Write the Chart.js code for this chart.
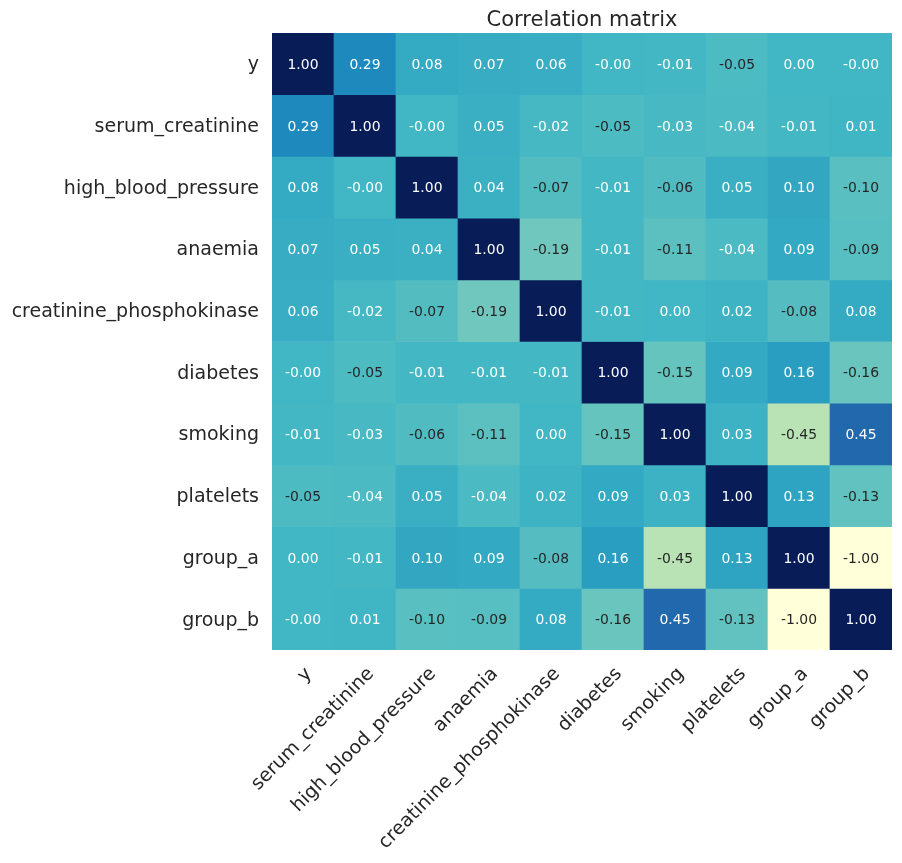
<!DOCTYPE html>
<html><head><meta charset="utf-8">
<script src="https://cdn.jsdelivr.net/npm/chart.js@4/dist/chart.umd.min.js"></script>
<style>html,body{margin:0;padding:0;background:#fff}</style>
</head><body>
<canvas id="c" width="902" height="863" style="width:902px;height:863px;display:block"></canvas>
<script>
const labels = ['y','serum_creatinine','high_blood_pressure','anaemia','creatinine_phosphokinase','diabetes','smoking','platelets','group_a','group_b'];
const rowY        = [1.00, 0.29, 0.08, 0.07, 0.06, -0.00, -0.01, -0.05, 0.00, -0.00];
const rowSerum    = [0.29, 1.00, -0.00, 0.05, -0.02, -0.05, -0.03, -0.04, -0.01, 0.01];
const rowHBP      = [0.08, -0.00, 1.00, 0.04, -0.07, -0.01, -0.06, 0.05, 0.10, -0.10];
const rowAnaemia  = [0.07, 0.05, 0.04, 1.00, -0.19, -0.01, -0.11, -0.04, 0.09, -0.09];
const rowCPK      = [0.06, -0.02, -0.07, -0.19, 1.00, -0.01, 0.00, 0.02, -0.08, 0.08];
const rowDiabetes = [-0.00, -0.05, -0.01, -0.01, -0.01, 1.00, -0.15, 0.09, 0.16, -0.16];
const rowSmoking  = [-0.01, -0.03, -0.06, -0.11, 0.00, -0.15, 1.00, 0.03, -0.45, 0.45];
const rowPlatelets= [-0.05, -0.04, 0.05, -0.04, 0.02, 0.09, 0.03, 1.00, 0.13, -0.13];
const rowGroupA   = [0.00, -0.01, 0.10, 0.09, -0.08, 0.16, -0.45, 0.13, 1.00, -1.00];
const rowGroupB   = [-0.00, 0.01, -0.10, -0.09, 0.08, -0.16, 0.45, -0.13, -1.00, 1.00];
const rows = [rowY,rowSerum,rowHBP,rowAnaemia,rowCPK,rowDiabetes,rowSmoking,rowPlatelets,rowGroupA,rowGroupB];

const cmap = ['#ffffd9','#edf8b1','#c7e9b4','#7fcdbb','#41b6c4','#1d91c0','#225ea8','#253494','#081d58'];
function hex(h){return [parseInt(h.slice(1,3),16),parseInt(h.slice(3,5),16),parseInt(h.slice(5,7),16)];}
function rgbFor(v){
  let t=(v+1)/2; t=Math.max(0,Math.min(1,t));
  const p=t*(cmap.length-1); const i=Math.min(Math.floor(p),cmap.length-2); const f=p-i;
  const a=hex(cmap[i]), b=hex(cmap[i+1]);
  return a.map((x,k)=>x+(b[k]-x)*f);
}
function colorFor(v){const c=rgbFor(v);return 'rgb('+c.map(x=>Math.round(x)).join(',')+')';}
function lum(v){
  const c=rgbFor(v).map(x=>{x/=255;return x<=0.03928?x/12.92:Math.pow((x+0.055)/1.055,2.4);});
  return 0.2126*c[0]+0.7152*c[1]+0.0722*c[2];
}
function fmt(v){return ((v<0||Object.is(v,-0))?'-':'')+Math.abs(v).toFixed(2);}

const n = labels.length;
const datasets = rows.map((row,r)=>({
  data: row.map(()=>[n-1-r, n-r]),
  backgroundColor: row.map(colorFor),
  borderWidth: 0,
  barPercentage: 1,
  categoryPercentage: 1,
  grouped: false
}));

const annot = {
  id:'annot',
  afterDatasetsDraw(chart){
    const ctx=chart.ctx, xs=chart.scales.x, ys=chart.scales.y;
    ctx.save();
    ctx.font='13.9px "DejaVu Sans"';
    ctx.textAlign='center'; ctx.textBaseline='middle';
    rows.forEach((row,r)=>row.forEach((v,c)=>{
      ctx.fillStyle = lum(v)>0.408 ? '#262626' : '#ffffff';
      ctx.fillText(fmt(v), xs.getPixelForValue(c), ys.getPixelForValue(n-r-0.5)+1.5);
    }));
    const a=chart.chartArea;
    ctx.fillStyle='#262626';
    ctx.font='21px "DejaVu Sans"';
    ctx.textBaseline='alphabetic';
    ctx.fillText('Correlation matrix',(a.left+a.right)/2,a.top-7);
    ctx.restore();
  }
};

new Chart(document.getElementById('c'),{
  type:'bar',
  data:{labels, datasets},
  options:{
    responsive:false, animation:false,
    layout:{padding:{top:33,right:10,left:0,bottom:0}},
    plugins:{legend:{display:false},tooltip:{enabled:false},title:{display:false}},
    scales:{
      x:{
        type:'category',
        grid:{display:false}, border:{display:false},
        ticks:{color:'#262626',font:{family:'DejaVu Sans',size:19},maxRotation:45,minRotation:45,autoSkip:false,padding:5,labelOffset:6},
        afterFit(s){s.height=213;}
      },
      y:{
        type:'linear',min:0,max:n,
        grid:{display:false}, border:{display:false},
        afterBuildTicks(s){s.ticks=labels.map((_,i)=>({value:n-0.5-i}));},
        ticks:{color:'#262626',font:{family:'DejaVu Sans',size:19},autoSkip:false,padding:5,labelOffset:1.5,
          callback:(v)=>labels[Math.round(n-0.5-v)]},
        afterFit(s){s.width=272;}
      }
    }
  },
  plugins:[annot]
});
</script>
</body></html>
